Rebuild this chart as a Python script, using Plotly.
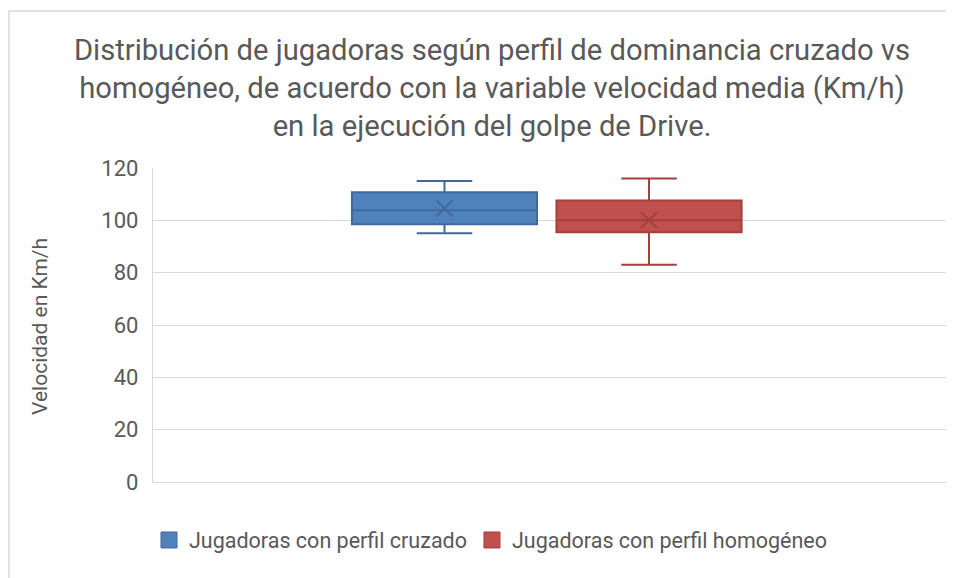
import plotly.graph_objects as go

# Data
category = [" "]
series_names = ["Jugadoras con perfil cruzado", "Jugadoras con perfil homogéneo"]
lower_whisker = [95.1, 83.0]
q1_values = [98.5, 95.4]
median_values = [103.9, 100.0]
q3_values = [110.7, 107.6]
upper_whisker = [115.0, 116.0]
mean_values = [104.6, 100.1]

fill_colors = ["#4F81BD", "#C0504D"]
line_colors = ["#41699A", "#A33F3C"]

FONT = "Roboto, sans-serif"
TXT = "#595959"

# layout geometry (figure pixels)
L, T, PW, PH = 145, 160, 799, 314

fig = go.Figure()
for i, name in enumerate(series_names):
    fig.add_trace(go.Box(
        x=category, name=name, showlegend=False,
        q1=[q1_values[i]], median=[median_values[i]], q3=[q3_values[i]],
        lowerfence=[lower_whisker[i]], upperfence=[upper_whisker[i]],
        fillcolor=fill_colors[i], line=dict(color=line_colors[i], width=2),
        whiskerwidth=0.3, boxpoints=False, offsetgroup=str(i),
    ))
for i, name in enumerate(series_names):
    fig.add_trace(go.Scatter(
        x=category, y=[mean_values[i]], mode="markers", showlegend=False,
        offsetgroup=str(i), hoverinfo="skip",
        marker=dict(symbol="x-thin", size=16, line=dict(color=line_colors[i], width=2)),
    ))
# legend entries (filled squares, like the reference)
for i, name in enumerate(series_names):
    fig.add_trace(go.Scatter(
        x=category, y=[None], mode="markers", name=name, showlegend=True,
        offsetgroup=str(i), hoverinfo="skip",
        marker=dict(symbol="square", size=19, color=fill_colors[i],
                    line=dict(color=line_colors[i], width=1)),
    ))

fig.update_layout(
    width=954, height=578,
    paper_bgcolor="white", plot_bgcolor="white",
    margin=dict(l=L, r=954 - L - PW, t=T, b=578 - T - PH),
    boxmode="group", boxgap=0.488, boxgroupgap=0.095,
    scattermode="group", scattergap=0.488,
    font=dict(family=FONT, color=TXT, size=20),
    title=dict(
        text="Distribución de jugadoras según perfil de dominancia cruzado vs<br>"
             "homogéneo, de acuerdo con la variable velocidad media (Km/h)<br>"
             "en la ejecución del golpe de Drive.",
        x=484/954, xref="container", xanchor="center",
        y=1 - 52/578, yref="container", yanchor="top",
        font=dict(family=FONT, size=29.2, color=TXT),
    ),
    xaxis=dict(showticklabels=False, showgrid=False, zeroline=False,
               range=[-0.4928, 0.5072], showline=True, linecolor="#D9D9D9",
               linewidth=1.3, type="category"),
    yaxis=dict(range=[0, 120], dtick=20, showgrid=True, gridcolor="#D9D9D9",
               gridwidth=1.3, zeroline=False, showline=True, linecolor="#D9D9D9",
               linewidth=1.3, ticklabelstandoff=9,
               tickfont=dict(family=FONT, size=22, color=TXT)),
    legend=dict(orientation="h", x=(483 - L)/PW, xanchor="center",
                y=-(532 - (T + PH))/PH, yanchor="middle",
                font=dict(family=FONT, size=21.5, color=TXT),
                itemwidth=30, tracegroupgap=0),
    showlegend=True,
    annotations=[dict(text="Velocidad en Km/h", textangle=-90,
                      x=(32 - L)/PW, xref="paper", xanchor="center",
                      y=(T + PH - 318)/PH, yref="paper", yanchor="middle",
                      showarrow=False, font=dict(family=FONT, size=21, color=TXT))],
    shapes=[
        dict(type="line", xref="paper", yref="paper",
             x0=(1 - L)/PW, x1=(954 - L)/PW, y0=(T + PH - 3)/PH, y1=(T + PH - 3)/PH,
             line=dict(color="#D9D9D9", width=1.5)),
        dict(type="line", xref="paper", yref="paper",
             x0=(1 - L)/PW, x1=(1 - L)/PW, y0=(T + PH - 3)/PH, y1=(T + PH - 578)/PH,
             line=dict(color="#D9D9D9", width=1.5)),
    ],
)
fig.write_html("out.html")
